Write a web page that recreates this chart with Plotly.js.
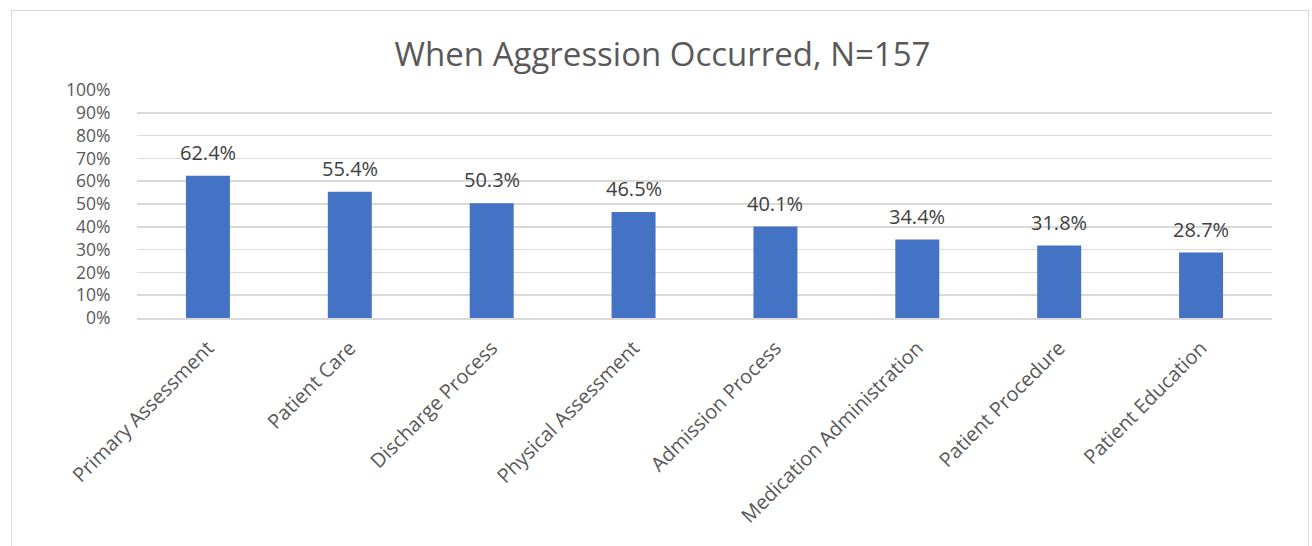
<!DOCTYPE html>
<html>
<head>
<meta charset="utf-8">
<script src="https://cdn.plot.ly/plotly-3.0.1.min.js"></script>
<style>
html,body{margin:0;padding:0;background:#fff;}
#wrap{position:relative;width:1312px;height:546px;overflow:hidden;}
#chart{position:absolute;left:0;top:0;width:1312px;height:546px;}
#frame{position:absolute;left:11px;top:10px;width:1296px;height:560px;border:1.5px solid #d9d9d9;pointer-events:none;}
</style>
</head>
<body>
<div id="wrap"><div id="chart"></div><div id="frame"></div></div>
<script>
const categories = ["Primary Assessment","Patient Care","Discharge Process","Physical Assessment","Admission Process","Medication Administration","Patient Procedure","Patient Education"];
const values = [0.624, 0.554, 0.503, 0.465, 0.401, 0.344, 0.318, 0.287];
const valueLabels = ["62.4%","55.4%","50.3%","46.5%","40.1%","34.4%","31.8%","28.7%"];
const yTicks = [0,0.1,0.2,0.3,0.4,0.5,0.6,0.7,0.8,0.9,1.0];
const yTickLabels = ["0%","10%","20%","30%","40%","50%","60%","70%","80%","90%","100%"];

const font = "'Open Sans', sans-serif";

const trace = {
  type: "bar",
  x: categories,
  y: values,
  marker: {color: "#4472C4"},
  hoverinfo: "skip"
};

const annotations = categories.map((c, i) => ({
  x: c, y: values[i], xref: "x", yref: "y",
  text: valueLabels[i], showarrow: false,
  yanchor: "bottom", yshift: 8,
  font: {family: font, size: 20, color: "#404040"}
}));

const layout = {
  width: 1312, height: 546,
  margin: {l: 137, r: 40, t: 90, b: 228, pad: 0},
  paper_bgcolor: "rgba(0,0,0,0)",
  plot_bgcolor: "#fff",
  bargap: 0.69,
  showlegend: false,
  title: {
    text: "When Aggression Occurred, N=157",
    x: 0.505, xref: "container", xanchor: "center",
    y: 0.9, yref: "container", yanchor: "middle",
    font: {family: font, size: 33, color: "#595959"}
  },
  xaxis: {
    type: "category",
    tickangle: -45,
    tickfont: {family: font, size: 20, color: "#595959"},
    showgrid: false,
    showline: true, linecolor: "#d9d9d9", linewidth: 1.5,
    ticks: "outside", ticklen: 9, tickcolor: "rgba(0,0,0,0)",
    fixedrange: true
  },
  yaxis: {
    range: [0, 1],
    tickvals: yTicks,
    ticktext: yTickLabels,
    tickfont: {family: "'Open Sans', sans-serif", size: 17.5, color: "#595959"},
    showgrid: true, gridcolor: "#d9d9d9", gridwidth: 1.5,
    zeroline: false,
    ticks: "outside", ticklen: 22, tickcolor: "rgba(0,0,0,0)",
    fixedrange: true
  },
  annotations: annotations
};

Plotly.newPlot("chart", [trace], layout, {displayModeBar: false, staticPlot: true});
</script>
</body>
</html>
